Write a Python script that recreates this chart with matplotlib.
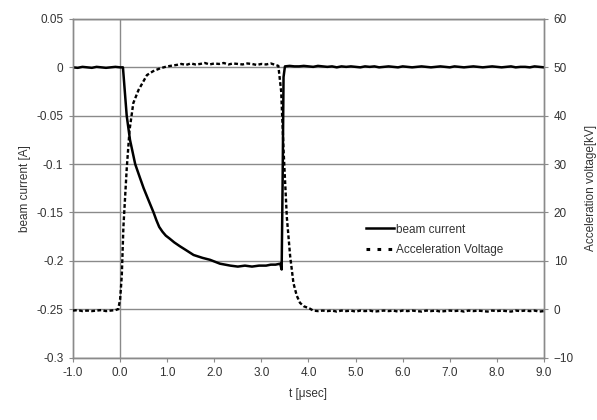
import matplotlib
matplotlib.use("Agg")
import matplotlib.pyplot as plt
from matplotlib.lines import Line2D

plt.rcParams['font.family'] = ['Liberation Sans Narrow', 'Liberation Sans', 'DejaVu Sans']

# beam current [A]
t_current = [-1.0, -0.9, -0.8, -0.7, -0.6, -0.5, -0.4, -0.3, -0.2, -0.1,
             0.0, 0.06, 0.1, 0.14, 0.21, 0.32, 0.42, 0.5, 0.6, 0.71,
             0.77, 0.83, 0.9, 0.97, 1.05, 1.15, 1.27, 1.4, 1.56, 1.75, 1.91,
             2.12, 2.34, 2.5, 2.65, 2.8, 2.95, 3.1, 3.2, 3.3, 3.4,
             3.43, 3.45, 3.47, 3.5, 3.6, 3.7, 3.8, 3.9, 4.0, 4.1,
             4.2, 4.3, 4.4, 4.5, 4.6, 4.7, 4.8, 4.9, 5.0, 5.1,
             5.2, 5.3, 5.4, 5.5, 5.6, 5.7, 5.8, 5.9, 6.0, 6.1,
             6.2, 6.3, 6.4, 6.5, 6.6, 6.7, 6.8, 6.9, 7.0, 7.1,
             7.2, 7.3, 7.4, 7.5, 7.6, 7.7, 7.8, 7.9, 8.0, 8.1,
             8.2, 8.3, 8.4, 8.5, 8.6, 8.7, 8.8, 8.9, 9.0]
beam_current = [0.000, -0.0005, 0.0005, 0.000, -0.0005, 0.0005, 0.000, -0.0005, 0.000, 0.0005,
                0.000, 0.000, -0.025, -0.050, -0.075, -0.100, -0.114, -0.125, -0.137, -0.150,
                -0.158, -0.165, -0.170, -0.174, -0.177, -0.181, -0.185, -0.189, -0.194, -0.197, -0.199,
                -0.203, -0.205, -0.206, -0.205, -0.206, -0.205, -0.205, -0.204, -0.204, -0.203,
                -0.209, -0.120, -0.010, 0.001, 0.0015, 0.001, 0.001, 0.0015, 0.001, 0.0005,
                0.0015, 0.001, 0.0005, 0.001, 0.000, 0.001, 0.0005, 0.001, 0.0005, 0.000,
                0.001, 0.0005, 0.001, 0.000, 0.0005, 0.001, 0.0005, 0.000, 0.001, 0.0005,
                0.000, 0.0005, 0.001, 0.0005, 0.000, 0.0005, 0.001, 0.0005, 0.000, 0.001,
                0.0005, 0.000, 0.0005, 0.001, 0.0005, 0.000, 0.0005, 0.001, 0.0005, 0.000,
                0.0005, 0.001, 0.000, 0.0005, 0.0005, 0.000, 0.001, 0.0005, 0.000]

# acceleration voltage [kV]
t_voltage = [-1.0, -0.9, -0.8, -0.7, -0.6, -0.5, -0.4, -0.3, -0.2, -0.1,
             -0.04, 0.0, 0.036, 0.07, 0.14, 0.2, 0.28, 0.39, 0.57, 0.7,
             0.85, 1.0, 1.2, 1.3, 1.4, 1.5, 1.6, 1.7, 1.8, 1.9,
             2.0, 2.1, 2.2, 2.3, 2.4, 2.5, 2.6, 2.7, 2.8, 2.9,
             3.0, 3.1, 3.2, 3.3, 3.36, 3.42, 3.47, 3.54, 3.61, 3.68,
             3.75, 3.82, 3.9, 4.03, 4.1, 4.2, 4.3, 4.4, 4.5, 4.6,
             4.7, 4.8, 4.9, 5.0, 5.1, 5.2, 5.3, 5.4, 5.5, 5.6,
             5.7, 5.8, 5.9, 6.0, 6.1, 6.2, 6.3, 6.4, 6.5, 6.6,
             6.7, 6.8, 6.9, 7.0, 7.1, 7.2, 7.3, 7.4, 7.5, 7.6,
             7.7, 7.8, 7.9, 8.0, 8.1, 8.2, 8.3, 8.4, 8.5, 8.6,
             8.7, 8.8, 8.9, 9.0]
voltage = [-0.3, -0.2, -0.4, -0.3, -0.4, -0.3, -0.2, -0.4, -0.3, -0.2,
           0.0, 2.0, 7.0, 17.0, 29.0, 37.0, 42.6, 45.3, 48.4, 49.2,
           49.8, 50.2, 50.5, 50.7, 50.5, 50.8, 50.6, 50.7, 50.9, 50.6,
           50.8, 50.7, 50.9, 50.6, 50.8, 50.7, 50.6, 50.8, 50.7, 50.5,
           50.7, 50.6, 50.8, 50.5, 50.3, 45.0, 33.0, 19.0, 11.0, 5.4,
           2.8, 1.3, 0.6, 0.1, -0.3, -0.4, -0.3, -0.4, -0.3, -0.5,
           -0.3, -0.4, -0.3, -0.5, -0.3, -0.4, -0.3, -0.5, -0.4, -0.3,
           -0.4, -0.3, -0.5, -0.3, -0.4, -0.3, -0.4, -0.5, -0.3, -0.4,
           -0.3, -0.5, -0.4, -0.3, -0.4, -0.3, -0.5, -0.3, -0.4, -0.3,
           -0.4, -0.5, -0.3, -0.4, -0.3, -0.4, -0.5, -0.3, -0.4, -0.3,
           -0.4, -0.3, -0.5, -0.4]

x_ticks = [-1.0, 0.0, 1.0, 2.0, 3.0, 4.0, 5.0, 6.0, 7.0, 8.0, 9.0]
left_ticks = [0.05, 0, -0.05, -0.1, -0.15, -0.2, -0.25, -0.3]
left_labels = ["0.05", "0", "-0.05", "-0.1", "-0.15", "-0.2", "-0.25", "-0.3"]
right_ticks = [-10, 0, 10, 20, 30, 40, 50, 60]

fig = plt.figure(figsize=(5.97, 4.2), dpi=100)
ax = fig.add_axes([0.1223, 0.1488, 0.7889, 0.806])
ax2 = ax.twinx()

grid_col = "#8a8a8a"
text_col = "#333333"
for yv in left_ticks:
    ax.axhline(yv, color=grid_col, lw=1.0, zorder=1)
ax.axvline(0.0, color=grid_col, lw=1.0, zorder=1)

ax.plot(t_current, beam_current, color="black", lw=1.8, zorder=3)
ax2.plot(t_voltage, voltage, color="black", lw=1.7, dashes=(1.6, 1.0), zorder=3)

ax.set_xlim(-1.0, 9.0)
ax.set_ylim(-0.3, 0.05)
ax2.set_ylim(-10, 60)
ax.set_xticks(x_ticks)
ax.set_xticklabels(["%.1f" % v for v in x_ticks])
ax.set_yticks(left_ticks)
ax.set_yticklabels(left_labels)
ax2.set_yticks(right_ticks)

for a in (ax, ax2):
    for s in a.spines.values():
        s.set_color(grid_col)
        s.set_linewidth(1.0)
    a.tick_params(length=3, width=0.8, color=grid_col, labelsize=8.5, labelcolor=text_col, pad=4)

ax.set_ylabel("beam current [A]", fontsize=8.5, color=text_col, labelpad=4)
ax2.set_ylabel("Acceleration voltage[kV]", fontsize=8.5, color=text_col, labelpad=8)
ax.set_xlabel("t [\u03bcsec]", fontsize=8.5, color=text_col, labelpad=6)

handles = [Line2D([], [], color="black", lw=1.8),
           Line2D([], [], color="black", lw=2.2, dashes=(1.2, 2.4))]
ax2.legend(handles, ["beam current", "Acceleration Voltage"], loc="center left",
           bbox_to_anchor=(0.622, 0.347), frameon=False, fontsize=8.5,
           borderpad=0, borderaxespad=0, handlelength=2.4, handletextpad=0.15,
           labelspacing=0.75, labelcolor=text_col)

fig.savefig("out.png", dpi=100)
